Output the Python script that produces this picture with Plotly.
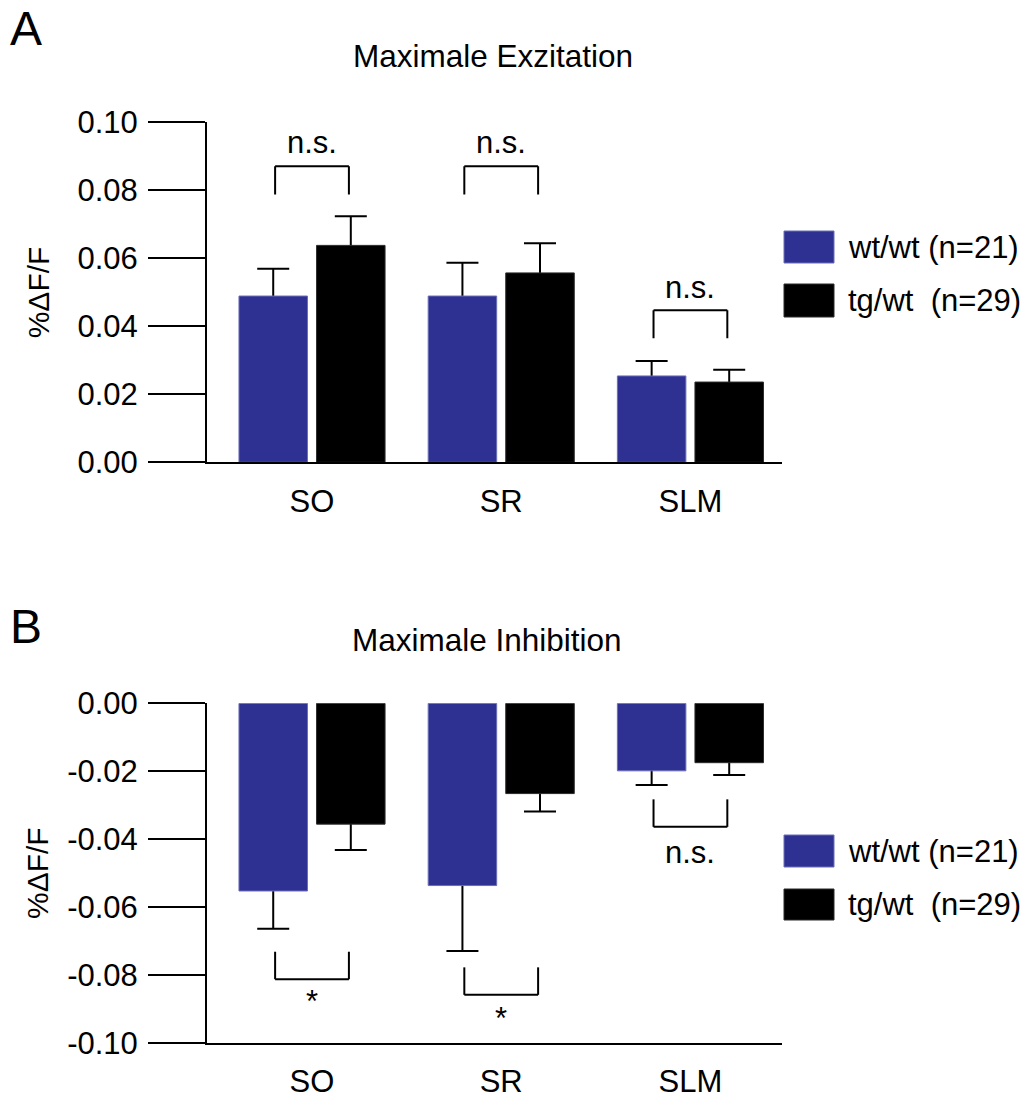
import plotly.graph_objects as go

W, H = 1031, 1100
FONT = "Liberation Sans, Arial, Helvetica, sans-serif"
FS = 31

# ---------------- data ----------------
categories = ["SO", "SR", "SLM"]
series_names = ["wt/wt (n=21)", "tg/wt  (n=29)"]
series_colors = ["#2E3192", "#000000"]
series_edges = ["#6b6eb5", "#2a2a2a"]

# Panel A: Maximale Exzitation (mean, SEM)
exc_wt = [0.0489, 0.0489, 0.0254]
exc_wt_err = [0.0080, 0.0098, 0.0044]
exc_tg = [0.0638, 0.0557, 0.0236]
exc_tg_err = [0.0086, 0.0087, 0.0036]

# Panel B: Maximale Inhibition (mean, SEM)
inh_wt = [-0.0553, -0.0537, -0.0199]
inh_wt_err = [0.0111, 0.0193, 0.0042]
inh_tg = [-0.0356, -0.0266, -0.0175]
inh_tg_err = [0.0076, 0.0053, 0.0036]

# tick labels
y_ticks_A = [0.00, 0.02, 0.04, 0.06, 0.08, 0.10]
y_ticktext_A = ["0.00", "0.02", "0.04", "0.06", "0.08", "0.10"]
y_ticks_B = [0.00, -0.02, -0.04, -0.06, -0.08, -0.10]
y_ticktext_B = ["0.00", "-0.02", "-0.04", "-0.06", "-0.08", "-0.10"]

# significance annotations
sig_A_text = ["n.s.", "n.s.", "n.s."]
sig_A_bar = [0.0871, 0.0871, 0.0447]
sig_A_leg = [0.0788, 0.0788, 0.0365]
sig_A_label = [0.0940, 0.0940, 0.0515]

sig_B_text = ["*", "*", "n.s."]
sig_B_bar = [-0.0813, -0.0859, -0.0364]
sig_B_leg = [-0.0732, -0.0778, -0.0283]
sig_B_label = [-0.0880, -0.0928, -0.0440]

titles = ["Maximale Exzitation", "Maximale Inhibition"]
panel_letters = ["A", "B"]
y_title = "%ΔF/F"

# ---------------- layout geometry ----------------
BARGAP = 0.18
BARGROUPGAP = 0.117
BRACKET_HALF = 0.195


def px_x(px):
    return px / W


def px_y(py):
    return 1 - py / H


x_domain = [px_x(207), px_x(782)]
yA_domain = [px_y(462.3), px_y(122.3)]
yB_domain = [px_y(1042.7), px_y(703.3)]

fig = go.Figure()

panels = [
    ("x", "y", [exc_wt, exc_tg], [exc_wt_err, exc_tg_err]),
    ("x2", "y2", [inh_wt, inh_tg], [inh_wt_err, inh_tg_err]),
]

for xa, ya, vals, errs in panels:
    # error bars first (drawn beneath the visible bars, so only the outer half shows)
    for i in range(2):
        fig.add_trace(go.Bar(
            x=categories, y=vals[i], xaxis=xa, yaxis=ya,
            offsetgroup=str(i),
            marker=dict(color="rgba(0,0,0,0)", line=dict(width=0)),
            error_y=dict(type="data", array=errs[i], visible=True,
                         color="black", thickness=2, width=16),
            showlegend=False, hoverinfo="skip",
        ))
    for i in range(2):
        fig.add_trace(go.Bar(
            x=categories, y=vals[i], xaxis=xa, yaxis=ya,
            offsetgroup=str(i), name=series_names[i],
            marker=dict(color=series_colors[i],
                        line=dict(color=series_edges[i], width=1)),
            showlegend=False,
        ))

axis_font = dict(family=FONT, size=FS, color="black")

xcommon = dict(
    type="category", categoryorder="array", categoryarray=categories,
    range=[-0.555, 2.484], domain=x_domain, automargin=False,
    showline=True, linecolor="black", linewidth=2,
    ticks="", showgrid=False, zeroline=False,
    tickfont=axis_font, ticklabelstandoff=10,
)
ycommon = dict(
    showline=True, linecolor="black", linewidth=2, automargin=False,
    ticks="outside", ticklen=57, tickwidth=2, tickcolor="black",
    showgrid=False, zeroline=False, tickfont=axis_font,
    ticklabelstandoff=4, tickmode="array",
)

fig.update_layout(
    width=W, height=H, autosize=False,
    margin=dict(l=0, r=0, t=0, b=0, pad=0, autoexpand=False),
    paper_bgcolor="white", plot_bgcolor="white",
    barmode="group", bargap=BARGAP, bargroupgap=BARGROUPGAP,
    font=dict(family=FONT, size=FS, color="black"),
    showlegend=False,
    xaxis=dict(anchor="y", **xcommon),
    yaxis=dict(anchor="x", domain=yA_domain, range=[0, 0.10],
               tickvals=y_ticks_A, ticktext=y_ticktext_A, **ycommon),
    xaxis2=dict(anchor="y2", **xcommon),
    yaxis2=dict(anchor="x2", domain=yB_domain, range=[-0.10, 0.0],
                tickvals=y_ticks_B, ticktext=y_ticktext_B, **ycommon),
)

shapes = []
annotations = []


def bracket(xref, yref, idx, bar_y, leg_y):
    x0 = idx - BRACKET_HALF
    x1 = idx + BRACKET_HALF
    ln = dict(color="black", width=2)
    return [
        dict(type="line", xref=xref, yref=yref, x0=x0, x1=x1, y0=bar_y, y1=bar_y, line=ln),
        dict(type="line", xref=xref, yref=yref, x0=x0, x1=x0, y0=bar_y, y1=leg_y, line=ln),
        dict(type="line", xref=xref, yref=yref, x0=x1, x1=x1, y0=bar_y, y1=leg_y, line=ln),
    ]


for idx in range(len(categories)):
    shapes += bracket("x", "y", idx, sig_A_bar[idx], sig_A_leg[idx])
    annotations.append(dict(xref="x", yref="y", x=idx, y=sig_A_label[idx],
                            text=sig_A_text[idx], showarrow=False,
                            xanchor="center", yanchor="middle",
                            font=dict(size=FS)))
    shapes += bracket("x2", "y2", idx, sig_B_bar[idx], sig_B_leg[idx])
    annotations.append(dict(xref="x2", yref="y2", x=idx, y=sig_B_label[idx],
                            text=sig_B_text[idx], showarrow=False,
                            xanchor="center", yanchor="middle",
                            font=dict(size=FS)))

# titles, panel letters, axis titles
title_pos = [(493, 56), (487, 640)]
letter_pos = [(26, 28), (26, 626)]
ytitle_pos = [(38, 292.3), (38, 873)]
for k in range(2):
    annotations.append(dict(xref="paper", yref="paper",
                            x=px_x(title_pos[k][0]), y=px_y(title_pos[k][1]),
                            text=titles[k], showarrow=False,
                            xanchor="center", yanchor="middle", font=dict(size=31.5)))
    annotations.append(dict(xref="paper", yref="paper",
                            x=px_x(letter_pos[k][0]), y=px_y(letter_pos[k][1]),
                            text=panel_letters[k], showarrow=False,
                            xanchor="center", yanchor="middle", font=dict(size=48)))
    annotations.append(dict(xref="paper", yref="paper",
                            x=px_x(ytitle_pos[k][0]), y=px_y(ytitle_pos[k][1]),
                            text=y_title, showarrow=False, textangle=-90,
                            xanchor="center", yanchor="middle", font=dict(size=30)))

# legends (one per panel)
legend_rows = [[(231, 263), (284, 317)], [(835, 867), (889, 920)]]
for k in range(2):
    for i in range(2):
        yt, yb = legend_rows[k][i]
        shapes.append(dict(type="rect", xref="paper", yref="paper",
                           x0=px_x(784), x1=px_x(834), y0=px_y(yb), y1=px_y(yt),
                           fillcolor=series_colors[i],
                           line=dict(color=series_edges[i], width=1)))
        annotations.append(dict(xref="paper", yref="paper",
                                x=px_x(846), y=px_y((yt + yb) / 2),
                                text=series_names[i].replace("  ", "&nbsp; "),
                                showarrow=False, xanchor="left", yanchor="middle",
                                font=dict(size=FS)))

fig.update_layout(shapes=shapes, annotations=annotations)

fig.write_html("out.html", config={"displayModeBar": False},
               post_script="document.body.style.margin='0';")
